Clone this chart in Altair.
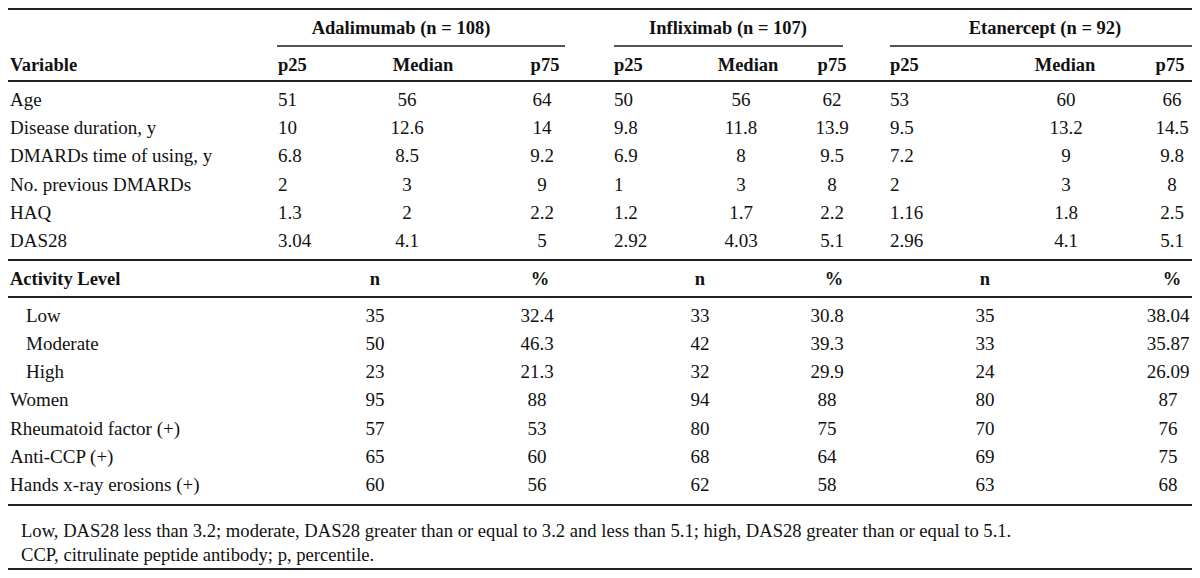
import altair as alt
import pandas as pd

# ---------------- data ----------------
groups = ["Adalimumab (n = 108)", "Infliximab (n = 107)", "Etanercept (n = 92)"]
stat_headers = ["p25", "Median", "p75"]
count_headers = ["n", "%"]

variables = ["Age", "Disease duration, y", "DMARDs time of using, y",
             "No. previous DMARDs", "HAQ", "DAS28"]
ada_p25 = [51, 10, 6.8, 2, 1.3, 3.04]
ada_med = [56, 12.6, 8.5, 3, 2, 4.1]
ada_p75 = [64, 14, 9.2, 9, 2.2, 5]
inf_p25 = [50, 9.8, 6.9, 1, 1.2, 2.92]
inf_med = [56, 11.8, 8, 3, 1.7, 4.03]
inf_p75 = [62, 13.9, 9.5, 8, 2.2, 5.1]
eta_p25 = [53, 9.5, 7.2, 2, 1.16, 2.96]
eta_med = [60, 13.2, 9, 3, 1.8, 4.1]
eta_p75 = [66, 14.5, 9.8, 8, 2.5, 5.1]

count_labels = ["Low", "Moderate", "High", "Women", "Rheumatoid factor (+)",
                "Anti-CCP (+)", "Hands x-ray erosions (+)"]
indented = [True, True, True, False, False, False, False]
ada_n = [35, 50, 23, 95, 57, 65, 60]
ada_pct = [32.4, 46.3, 21.3, 88, 53, 60, 56]
inf_n = [33, 42, 32, 94, 80, 68, 62]
inf_pct = [30.8, 39.3, 29.9, 88, 75, 64, 58]
eta_n = [35, 33, 24, 80, 70, 69, 63]
eta_pct = [38.04, 35.87, 26.09, 87, 76, 75, 68]

footnotes = [
    "Low, DAS28 less than 3.2; moderate, DAS28 greater than or equal to 3.2 and less than 5.1; high, DAS28 greater than or equal to 5.1.",
    "CCP, citrulinate peptide antibody; p, percentile.",
]

# ---------------- layout (page pixels) ----------------
W, H = 1184, 562
VAR_X, INDENT_X, FOOT_X = 10, 26, 21
Y_GROUP, Y_SUB = 28, 65
Y_BODY = [100, 128, 156, 185, 213, 241]
Y_ACT = 279
Y_COUNT = [316, 344, 372, 400, 429, 457, 485]
Y_FOOT = [531, 555]

GROUP_CX = [401, 728, 1045]
GROUP_LINE = [(277, 565), (614, 843), (890, 1192)]
P25_X = [278, 614, 890]            # left aligned
MED_HDR_CX = [423, 748, 1065]
MED_CX = [407, 741, 1066]
P75_HDR_CX = [545, 832, 1170]
P75_CX = [542, 832, 1172]
N_CX = [375, 700, 985]
PCT_HDR_CX = [540, 834, 1172]
PCT_CX = [537, 827, 1168]

cells = []


def add(x, y, text, kind):
    cells.append({"x": x, "y": y, "text": str(text), "kind": kind})


# header
for g, cx in zip(groups, GROUP_CX):
    add(cx, Y_GROUP, g, "center_b")
add(VAR_X, Y_SUB, "Variable", "left_b")
for i in range(3):
    add(P25_X[i], Y_SUB, stat_headers[0], "left_b")
    add(MED_HDR_CX[i], Y_SUB, stat_headers[1], "center_b")
    add(P75_HDR_CX[i], Y_SUB, stat_headers[2], "center_b")

stats = [(ada_p25, ada_med, ada_p75), (inf_p25, inf_med, inf_p75),
         (eta_p25, eta_med, eta_p75)]
for r, lab in enumerate(variables):
    y = Y_BODY[r]
    add(VAR_X, y, lab, "left")
    for i, (p25, med, p75) in enumerate(stats):
        add(P25_X[i], y, p25[r], "left")
        add(MED_CX[i], y, med[r], "center")
        add(P75_CX[i], y, p75[r], "center")

add(VAR_X, Y_ACT, "Activity Level", "left_b")
for i in range(3):
    add(N_CX[i], Y_ACT, count_headers[0], "center_b")
    add(PCT_HDR_CX[i], Y_ACT, count_headers[1], "center_b")

counts = [(ada_n, ada_pct), (inf_n, inf_pct), (eta_n, eta_pct)]
for r, lab in enumerate(count_labels):
    y = Y_COUNT[r]
    add(INDENT_X if indented[r] else VAR_X, y, lab, "left")
    for i, (n, pct) in enumerate(counts):
        add(N_CX[i], y, n[r], "center")
        add(PCT_CX[i], y, pct[r], "center")

for f, y in zip(footnotes, Y_FOOT):
    add(FOOT_X, y, f, "foot")

df = pd.DataFrame(cells)

rules = pd.DataFrame(
    [{"x": 8, "x2": 1192, "y": yy, "w": 2, "c": "#222222"} for yy in [9, 81, 260, 297, 505, 569]]
    + [{"x": a, "x2": b, "y": 46, "w": 2, "c": "#555555"} for a, b in GROUP_LINE]
)

xs = alt.Scale(domain=[8, 8 + W], range=[0, W])
ys = alt.Scale(domain=[8, 8 + H], range=[0, H])

FONT = "Liberation Serif"


def text_layer(kind, align, weight, size):
    return alt.Chart(df).transform_filter(alt.datum.kind == kind).mark_text(
        align=align, baseline="middle", font=FONT, fontSize=size,
        fontWeight=weight, color="#111111"
    ).encode(
        x=alt.X("x:Q", scale=xs, axis=None),
        y=alt.Y("y:Q", scale=ys, axis=None),
        text="text:N",
    )


rule_layer = alt.Chart(rules).mark_rule().encode(
    x=alt.X("x:Q", scale=xs, axis=None),
    x2="x2:Q",
    y=alt.Y("y:Q", scale=ys, axis=None),
    strokeWidth=alt.StrokeWidth("w:Q", scale=None),
    color=alt.Color("c:N", scale=None),
)

chart = alt.layer(
    rule_layer,
    text_layer("left", "left", "normal", 19),
    text_layer("center", "center", "normal", 19),
    text_layer("left_b", "left", "bold", 18.5),
    text_layer("center_b", "center", "bold", 18.5),
    text_layer("foot", "left", "normal", 18.6),
).properties(
    width=W, height=H, padding=0,
    autosize=alt.AutoSizeParams(type="none"),
    background="white",
).configure_view(stroke=None)

chart.save("out.html", embed_options={"renderer": "svg", "actions": False})
